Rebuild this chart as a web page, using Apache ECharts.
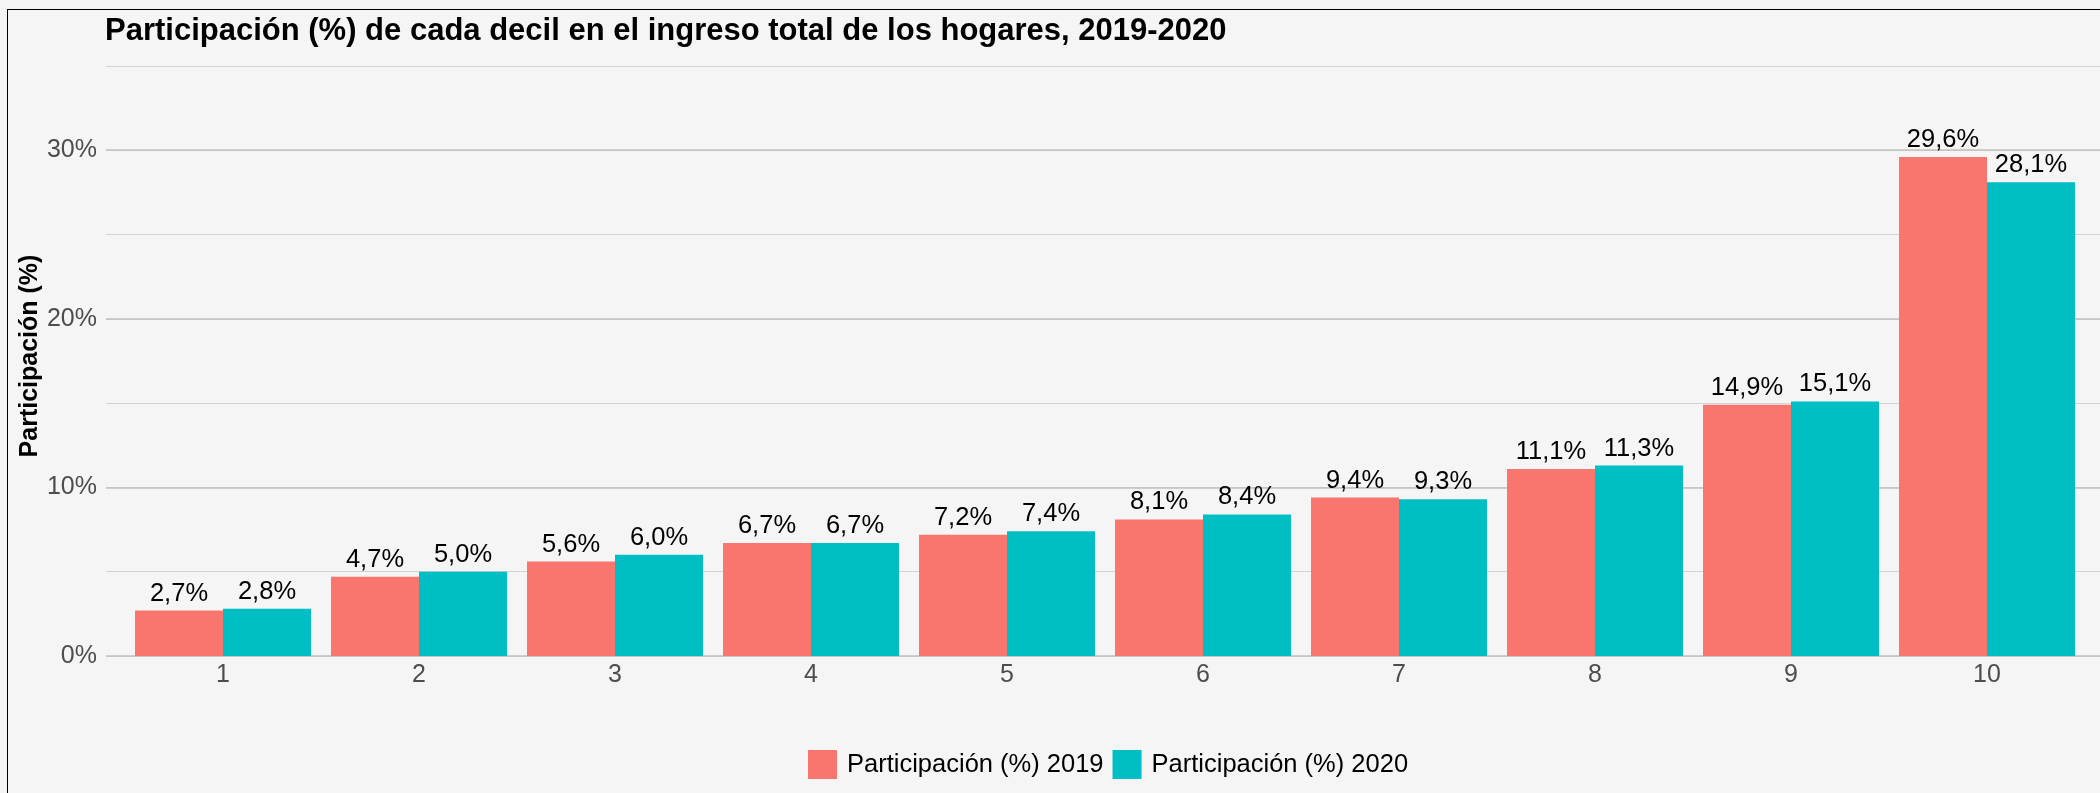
<!DOCTYPE html>
<html>
<head>
<meta charset="utf-8">
<script src="https://cdn.jsdelivr.net/npm/echarts@6/dist/echarts.min.js"></script>
<style>
  html, body { margin: 0; padding: 0; background: #f5f5f5; }
  #chart { position: absolute; left: 0; top: 0; width: 2100px; height: 793px; }
  #frame { position: absolute; left: 7px; top: 9px; width: 2200px; height: 900px;
           border-left: 1px solid #000; border-top: 1px solid #000; pointer-events: none; }
</style>
</head>
<body>
<div id="chart"></div>
<div id="frame"></div>
<script>
const titleText = 'Participación (%) de cada decil en el ingreso total de los hogares, 2019-2020';
const yAxisTitle = 'Participación (%)';
const categories = ['1', '2', '3', '4', '5', '6', '7', '8', '9', '10'];
const seriesNames = ['Participación (%) 2019', 'Participación (%) 2020'];
const values2019 = [2.7, 4.7, 5.6, 6.7, 7.2, 8.1, 9.4, 11.1, 14.9, 29.6];
const values2020 = [2.8, 5.0, 6.0, 6.7, 7.4, 8.4, 9.3, 11.3, 15.1, 28.1];
const yMajorTicks = [0, 10, 20, 30];
const yMax = 35;

const FONT = 'Liberation Sans, Arial, Helvetica, sans-serif';
const fmt = v => v.toFixed(1).replace('.', ',') + '%';

const chart = echarts.init(document.getElementById('chart'), null, { renderer: 'canvas' });

const labelStyle = {
  show: true, position: 'top', distance: 4,
  fontFamily: FONT, fontSize: 25.5, color: '#000',
  formatter: p => fmt(p.value)
};

const option = {
  backgroundColor: 'transparent',
  animation: false,
  title: {
    text: titleText, left: 105, top: 16, padding: 0,
    textStyle: { fontFamily: FONT, fontSize: 31, fontWeight: 'bold', color: '#000' }
  },
  legend: {
    data: seriesNames, left: 808, top: 750, padding: 0,
    icon: 'rect', itemWidth: 29, itemHeight: 29, itemGap: 9,
    textStyle: { fontFamily: FONT, fontSize: 25.5, color: '#000', padding: [0, 0, 0, 5] }
  },
  graphic: [{
    type: 'text', x: 30, y: 356, rotation: Math.PI / 2,
    style: {
      text: yAxisTitle, fill: '#000', font: 'bold 25px ' + FONT,
      textAlign: 'center', textVerticalAlign: 'middle'
    }
  }],
  grid: [
    { left: 106, right: 0, top: 66, bottom: 137 },   // minor gridlines
    { left: 106, right: 0, top: 150, bottom: 137 },  // major gridlines + labels
    { left: 125, right: 15, top: 66, bottom: 137 }   // bars
  ],
  xAxis: [
    { type: 'value', gridIndex: 0, min: 0, max: 1, show: false },
    { type: 'value', gridIndex: 1, min: 0, max: 1, show: false },
    {
      type: 'category', gridIndex: 2, data: categories,
      axisLine: { show: false }, axisTick: { show: false },
      axisLabel: { fontFamily: FONT, fontSize: 25, color: '#4d4d4d', margin: 7 }
    }
  ],
  yAxis: [
    {
      type: 'value', gridIndex: 0, min: 0, max: yMax, interval: 5,
      axisLine: { show: false }, axisTick: { show: false }, axisLabel: { show: false },
      splitLine: { lineStyle: { color: '#d2d2d2', width: 1 } }
    },
    {
      type: 'value', gridIndex: 1, min: yMajorTicks[0], max: yMajorTicks[yMajorTicks.length - 1], interval: 10,
      axisLine: { show: false }, axisTick: { show: false },
      axisLabel: { fontFamily: FONT, fontSize: 25, color: '#4d4d4d', margin: 9, formatter: '{value}%' },
      splitLine: { lineStyle: { color: '#c0c0c0', width: 1.6 } }
    },
    {
      type: 'value', gridIndex: 2, min: 0, max: yMax, show: false,
      splitLine: { show: false }
    }
  ],
  series: [
    {
      name: seriesNames[0], type: 'bar', xAxisIndex: 2, yAxisIndex: 2,
      data: values2019, barWidth: 88, barGap: '0%',
      itemStyle: { color: '#F8766D' }, label: labelStyle
    },
    {
      name: seriesNames[1], type: 'bar', xAxisIndex: 2, yAxisIndex: 2,
      data: values2020, barWidth: 88, barGap: '0%',
      itemStyle: { color: '#00BFC4' }, label: labelStyle
    }
  ]
};
chart.setOption(option);
</script>
</body>
</html>
